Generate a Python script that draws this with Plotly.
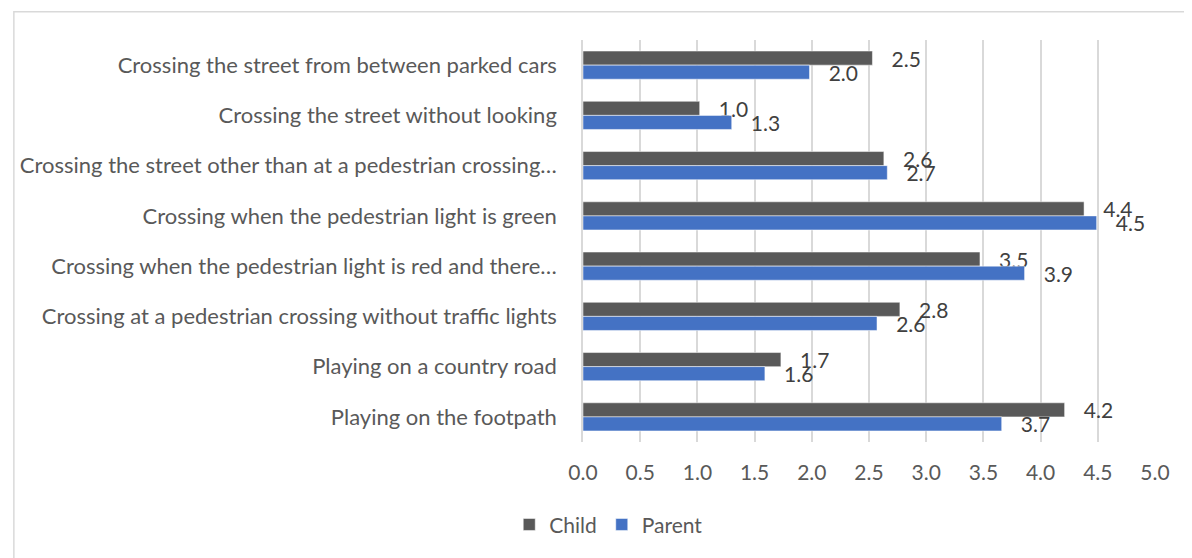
import plotly.graph_objects as go

categories = [
    "Crossing the street from between parked cars",
    "Crossing the street without looking",
    "Crossing the street other than at a pedestrian crossing…",
    "Crossing when the pedestrian light is green",
    "Crossing when the pedestrian light is red and there…",
    "Crossing at a pedestrian crossing without traffic lights",
    "Playing on a country road",
    "Playing on the footpath",
]
child = [2.53, 1.02, 2.63, 4.38, 3.47, 2.77, 1.73, 4.21]
parent = [1.98, 1.30, 2.66, 4.49, 3.86, 2.57, 1.59, 3.66]
x_ticks = [0, 0.5, 1, 1.5, 2, 2.5, 3, 3.5, 4, 4.5, 5]

FONT = "Lato"
LBL = dict(family=FONT, size=21, color="#404040")
fig = go.Figure()
fig.add_trace(go.Bar(
    y=categories, x=child, name="Child", orientation="h",
    marker=dict(color="#595959", line=dict(color="#ffffff", width=0.5)),
    texttemplate="   %{x:.1f}", textposition="outside", cliponaxis=False,
    constraintext="none", textfont=LBL,
))
fig.add_trace(go.Bar(
    y=categories, x=parent, name="Parent", orientation="h",
    marker=dict(color="#4472C4", line=dict(color="#ffffff", width=0.5)),
    texttemplate="   %{x:.1f}", textposition="outside", cliponaxis=False,
    constraintext="none", textfont=LBL,
))

fig.update_layout(
    width=1184, height=550,
    margin=dict(l=572, r=37, t=32, b=116),
    paper_bgcolor="white", plot_bgcolor="white",
    barmode="group", bargap=0.44, bargroupgap=0,
    font=dict(family=FONT, size=21, color="#595959"),
    showlegend=True,
    legend=dict(orientation="h", x=0.045, xanchor="center", y=-0.206, yanchor="middle",
                font=dict(family=FONT, size=21, color="#595959"), traceorder="normal",
                itemwidth=30),
    xaxis=dict(range=[0, 5], tickvals=x_ticks, tickformat=".1f",
               showgrid=True, gridcolor="#d9d9d9", gridwidth=1.5,
               zeroline=False, showline=False, ticks="",
               tickfont=dict(family=FONT, size=21, color="#595959"),
               ticklabelstandoff=16),
    yaxis=dict(autorange="reversed", showline=True, linecolor="#d9d9d9", linewidth=1.5,
               ticks="", tickfont=dict(family=FONT, size=22, color="#595959"),
               ticklabelstandoff=20),
    shapes=[dict(type="rect", xref="paper", yref="paper",
                 x0=-0.995, x1=1.2, y0=-0.4, y1=1.07,
                 line=dict(color="#d9d9d9", width=1.5), fillcolor="rgba(0,0,0,0)", layer="below")],
)
fig.write_html("out.html")
